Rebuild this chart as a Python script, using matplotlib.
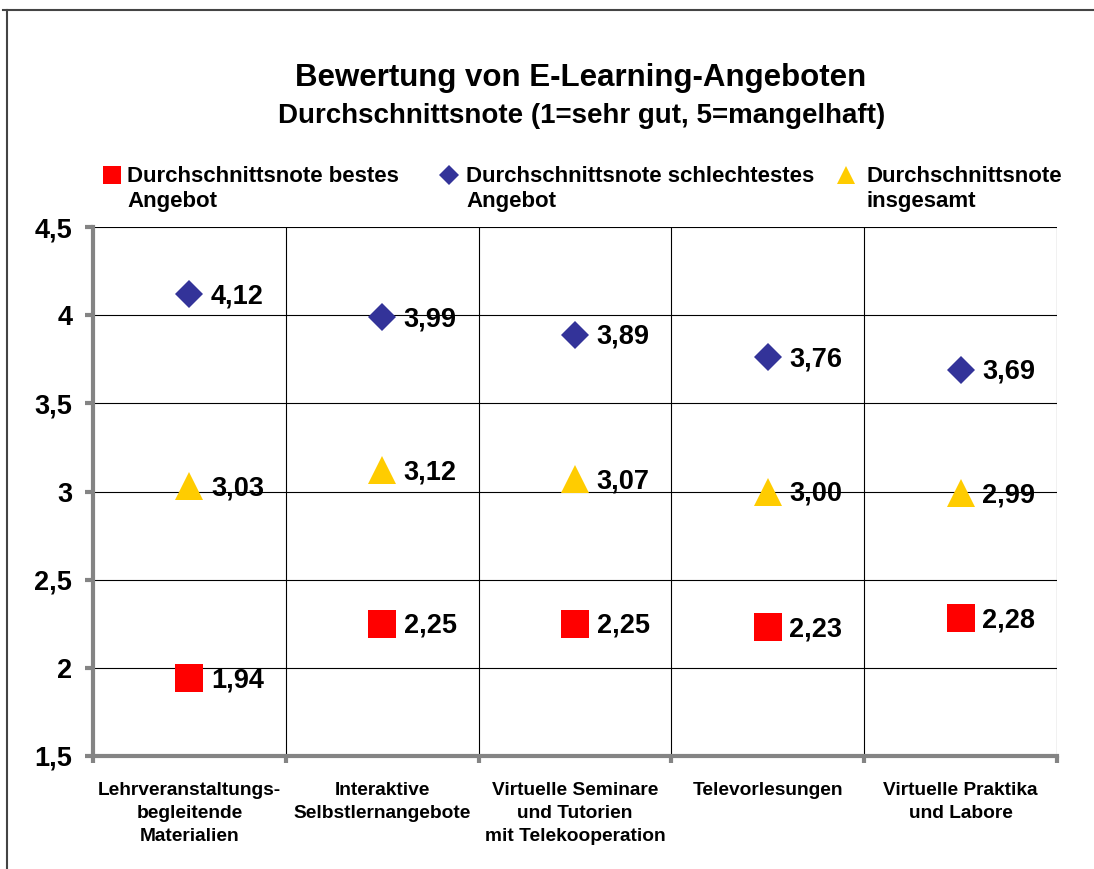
import matplotlib
matplotlib.use("Agg")
import matplotlib.pyplot as plt
from matplotlib.lines import Line2D
import numpy as np

plt.rcParams['font.family'] = ['Liberation Sans', 'DejaVu Sans']
plt.rcParams['font.weight'] = 'bold'

# data
categories = ["Lehrveranstaltungs-\nbegleitende\nMaterialien",
              "Interaktive\nSelbstlernangebote",
              "Virtuelle Seminare\nund Tutorien\nmit Telekooperation",
              "Televorlesungen",
              "Virtuelle Praktika\nund Labore"]
best = [1.94, 2.25, 2.25, 2.23, 2.28]
worst = [4.12, 3.99, 3.89, 3.76, 3.69]
overall = [3.03, 3.12, 3.07, 3.00, 2.99]
yticks = [1.5, 2.0, 2.5, 3.0, 3.5, 4.0, 4.5]
ytick_labels = ["1,5", "2", "2,5", "3", "3,5", "4", "4,5"]

names = ["Durchschnittsnote bestes\nAngebot",
         "Durchschnittsnote schlechtestes\nAngebot",
         "Durchschnittsnote\ninsgesamt"]
colors = ['#ff0000', '#333399', '#ffcc00']
markers = ['s', 'D', '^']
msizes = [20, 14.3, 19.5]

def fmt(v):
    return f"{v:.2f}".replace('.', ',')

W, H = 1094, 869
fig = plt.figure(figsize=(W / 100, H / 100), dpi=100)
ax = fig.add_axes([93 / W, 1 - 756 / H, (1057 - 93) / W, (756 - 227) / H])

x = np.arange(len(categories)) + 0.5
gray = '#848484'

ax.set_xlim(0, len(categories))
ax.set_ylim(1.5, 4.5)

# grid
for yv in yticks[1:]:
    ax.axhline(yv, color='black', lw=0.8, zorder=1)
for xv in range(1, len(categories) + 1):
    ax.axvline(xv, color='black', lw=0.8, zorder=1)

for vals, c, m, ms in zip([best, worst, overall], colors, markers, msizes):
    ax.plot(x, vals, linestyle='none', marker=m, color=c, markersize=ms,
            markeredgewidth=0, zorder=3, clip_on=False)
    for xi, v in zip(x, vals):
        ax.annotate(fmt(v), (xi, v), xytext=(15.5, -1.5), textcoords='offset points',
                    va='center', ha='left', fontsize=19.5, fontweight='bold', zorder=4)

for side in ['top', 'right']:
    ax.spines[side].set_visible(False)
for side in ['left', 'bottom']:
    ax.spines[side].set_color(gray)
    ax.spines[side].set_linewidth(3)
    ax.spines[side].set_zorder(5)

ax.set_yticks(yticks)
ax.set_yticklabels(ytick_labels)
ax.tick_params(axis='y', which='major', length=6, width=3, color=gray, pad=9,
               labelsize=19.5)

ax.set_xticks(range(0, len(categories) + 1))
ax.set_xticklabels([])
ax.set_xticks(x, minor=True)
ax.set_xticklabels(categories, minor=True, fontsize=13.8, linespacing=1.45)
ax.tick_params(axis='x', which='major', length=5, width=3, color=gray)
ax.tick_params(axis='x', which='minor', length=0, pad=19)
for lab in ax.get_yticklabels() + ax.get_xticklabels(minor=True):
    lab.set_fontweight('bold')

# title
fig.text(581 / W, 1 - 86 / H, "Bewertung von E-Learning-Angeboten", ha='center',
         va='baseline', fontsize=22.5, fontweight='bold')
fig.text(582 / W, 1 - 123 / H, "Durchschnittsnote (1=sehr gut, 5=mangelhaft)",
         ha='center', va='baseline', fontsize=20, fontweight='bold')

# legend
leg_marker_x = [111.5, 449, 846]
leg_text_x = [127, 466, 866]
leg_ms = [13, 10, 13]
for n, c, m, ms, mx, tx in zip(names, colors, markers, leg_ms, leg_marker_x, leg_text_x):
    fig.add_artist(Line2D([mx / W], [1 - 174.5 / H], transform=fig.transFigure,
                          marker=m, color=c, markersize=ms, markeredgewidth=0,
                          linestyle='none'))
    fig.text(tx / W, 1 - 207 / H, n, ha='left', va='baseline', fontsize=16,
             fontweight='bold', linespacing=1.25)

# outer frame
fig.add_artist(Line2D([3 / W, 1], [1 - 10 / H, 1 - 10 / H], transform=fig.transFigure,
                      color='#444444', lw=1.5))
fig.add_artist(Line2D([7 / W, 7 / W], [0, 1 - 10 / H], transform=fig.transFigure,
                      color='#444444', lw=1.5))

fig.savefig("out.png", dpi=100)
